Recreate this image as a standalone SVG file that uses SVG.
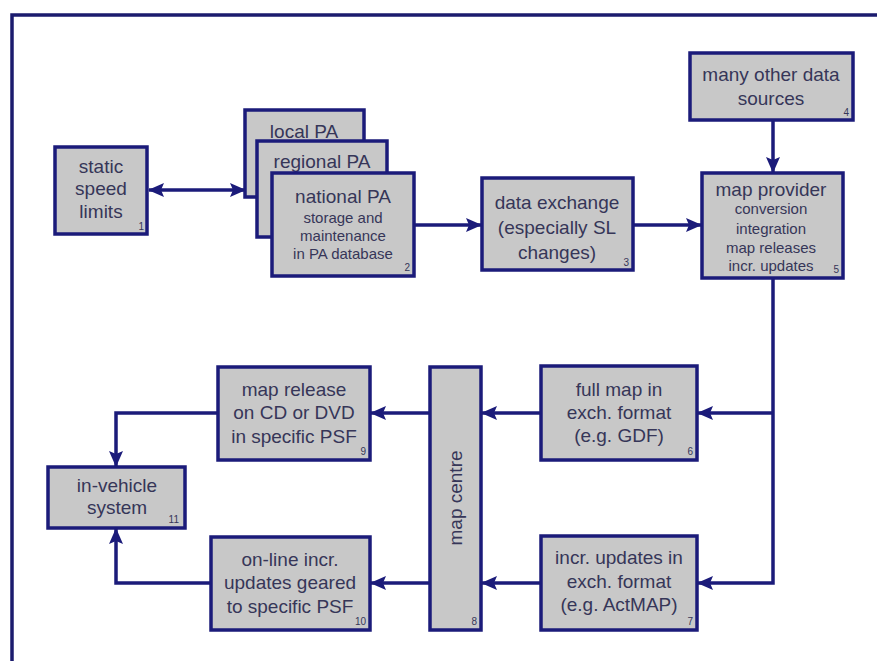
<svg xmlns="http://www.w3.org/2000/svg" width="877" height="661" viewBox="0 0 877 661">
  <defs>
    <style>
      .box { fill: #c8c8c8; stroke: #1b1b7a; stroke-width: 3.5; }
      .t { font-family: "Liberation Sans", Arial, sans-serif; fill: #363658; text-anchor: middle; }
      .big { font-size: 19px; }
      .small { font-size: 15px; }
      .num { font-family: "Liberation Sans", Arial, sans-serif; font-size: 10px; fill: #363658; text-anchor: end; }
      .wire { fill: none; stroke: #1b1b7a; stroke-width: 3.5; }
      .frame { fill: none; stroke: #1b1b6e; stroke-width: 3.5; }
    </style>
    <marker id="arrow" viewBox="0 0 16 14" refX="15" refY="7" markerWidth="16" markerHeight="14" markerUnits="userSpaceOnUse" orient="auto-start-reverse">
      <path d="M0,0 L16,7 L0,14 L3,7 z" fill="#1b1b7a"/>
    </marker>
  </defs>

  <rect width="877" height="661" fill="#ffffff"/>
  <!-- outer frame -->
  <path class="frame" d="M12,661 V15 H877"/>

  <!-- connectors -->
  <g id="connectors">
    <path class="wire" d="M149,190 H245" marker-start="url(#arrow)" marker-end="url(#arrow)"/>
    <path class="wire" d="M414,225 H481" marker-end="url(#arrow)"/>
    <path class="wire" d="M633,225 H701" marker-end="url(#arrow)"/>
    <path class="wire" d="M773,120 V172" marker-end="url(#arrow)"/>
    <path class="wire" d="M773,278 V583 H698" marker-end="url(#arrow)"/>
    <path class="wire" d="M773,413 H698" marker-end="url(#arrow)"/>
    <path class="wire" d="M541,413 H482" marker-end="url(#arrow)"/>
    <path class="wire" d="M541,583 H482" marker-end="url(#arrow)"/>
    <path class="wire" d="M430,413 H371" marker-end="url(#arrow)"/>
    <path class="wire" d="M430,583 H371" marker-end="url(#arrow)"/>
    <path class="wire" d="M218,413 H116 V466" marker-end="url(#arrow)"/>
    <path class="wire" d="M211,583 H116 V529" marker-end="url(#arrow)"/>
  </g>

  <!-- 1 static speed limits -->
  <g id="n1">
    <rect class="box" x="55" y="147" width="92" height="87"/>
    <text class="t big" x="101" y="173">static</text>
    <text class="t big" x="101" y="195">speed</text>
    <text class="t big" x="101" y="218">limits</text>
    <text class="num" x="144" y="230">1</text>
  </g>

  <!-- 2 public authorities (stacked) -->
  <g id="n2-local">
    <rect class="box" x="245" y="110" width="119" height="87"/>
    <text class="t big" x="304" y="138">local PA</text>
  </g>
  <g id="n2-regional">
    <rect class="box" x="257" y="141" width="130" height="96"/>
    <text class="t big" x="322" y="168">regional PA</text>
  </g>
  <g id="n2">
    <rect class="box" x="272" y="173" width="142" height="103"/>
    <text class="t big" x="343" y="203">national PA</text>
    <text class="t small" x="343" y="223">storage and</text>
    <text class="t small" x="343" y="241">maintenance</text>
    <text class="t small" x="343" y="259">in PA database</text>
    <text class="num" x="410" y="271">2</text>
  </g>

  <!-- 3 data exchange -->
  <g id="n3">
    <rect class="box" x="482" y="178" width="151" height="92"/>
    <text class="t big" x="557" y="209">data exchange</text>
    <text class="t big" x="557" y="234">(especially SL</text>
    <text class="t big" x="557" y="259">changes)</text>
    <text class="num" x="629" y="266">3</text>
  </g>

  <!-- 4 other sources -->
  <g id="n4">
    <rect class="box" x="690" y="53" width="163" height="67"/>
    <text class="t big" x="771" y="81">many other data</text>
    <text class="t big" x="771" y="105">sources</text>
    <text class="num" x="849" y="116">4</text>
  </g>

  <!-- 5 map provider -->
  <g id="n5">
    <rect class="box" x="702" y="173" width="141" height="105"/>
    <text class="t big" x="771" y="196">map provider</text>
    <text class="t small" x="771" y="214">conversion</text>
    <text class="t small" x="771" y="234">integration</text>
    <text class="t small" x="771" y="253">map releases</text>
    <text class="t small" x="771" y="271">incr. updates</text>
    <text class="num" x="839" y="273">5</text>
  </g>

  <!-- 6 full map -->
  <g id="n6">
    <rect class="box" x="541" y="366" width="156" height="94"/>
    <text class="t big" x="619" y="396">full map in</text>
    <text class="t big" x="619" y="419">exch. format</text>
    <text class="t big" x="619" y="442">(e.g. GDF)</text>
    <text class="num" x="693" y="455">6</text>
  </g>

  <!-- 7 incremental updates -->
  <g id="n7">
    <rect class="box" x="541" y="536" width="156" height="94"/>
    <text class="t big" x="619" y="564">incr. updates in</text>
    <text class="t big" x="619" y="588">exch. format</text>
    <text class="t big" x="619" y="611">(e.g. ActMAP)</text>
    <text class="num" x="693" y="625">7</text>
  </g>

  <!-- 8 map centre -->
  <g id="n8">
    <rect class="box" x="430" y="367" width="51" height="263"/>
    <text class="t big" transform="translate(462,498) rotate(-90)" x="0" y="0">map centre</text>
    <text class="num" x="477" y="625">8</text>
  </g>

  <!-- 9 map release -->
  <g id="n9">
    <rect class="box" x="218" y="367" width="152" height="93"/>
    <text class="t big" x="294" y="396">map release</text>
    <text class="t big" x="294" y="419">on CD or DVD</text>
    <text class="t big" x="294" y="443">in specific PSF</text>
    <text class="num" x="366" y="455">9</text>
  </g>

  <!-- 10 online updates -->
  <g id="n10">
    <rect class="box" x="211" y="537" width="159" height="93"/>
    <text class="t big" x="290" y="566">on-line incr.</text>
    <text class="t big" x="290" y="589">updates geared</text>
    <text class="t big" x="290" y="613">to specific PSF</text>
    <text class="num" x="366" y="625">10</text>
  </g>

  <!-- 11 in-vehicle system -->
  <g id="n11">
    <rect class="box" x="48" y="467" width="137" height="61"/>
    <text class="t big" x="117" y="492">in-vehicle</text>
    <text class="t big" x="117" y="514">system</text>
    <text class="num" x="179" y="523">11</text>
  </g>
</svg>
